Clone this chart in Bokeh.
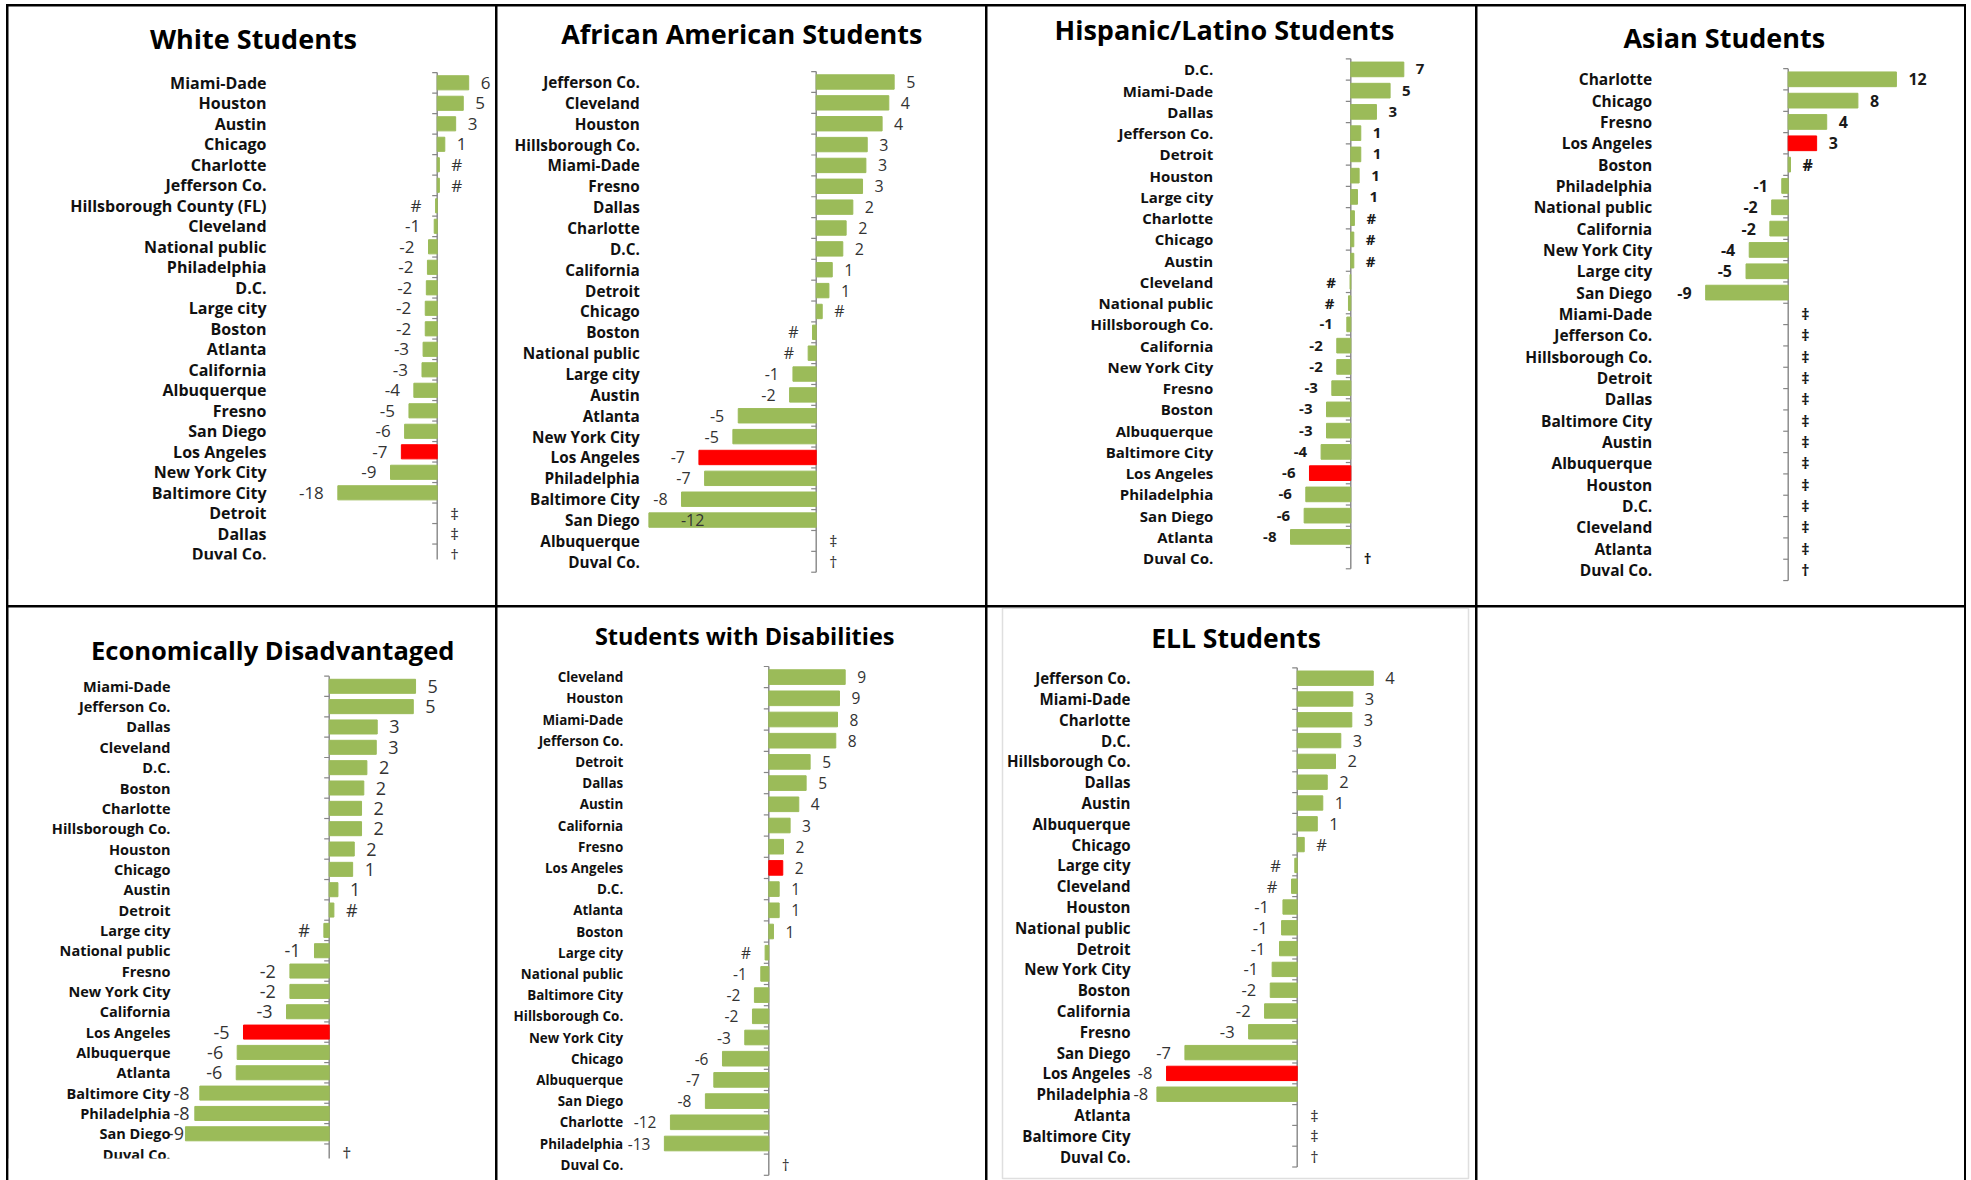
import math

from bokeh.core.properties import value
from bokeh.embed import file_html
from bokeh.layouts import column, row
from bokeh.models import BoxAnnotation, ColumnDataSource, Range1d
from bokeh.plotting import figure
from bokeh.resources import INLINE

# ------------------------------------------------------------------
# Data: change in average score by district, one panel per student group.
# None = no estimate; the footnote symbol for it is kept in *_notes.
# ------------------------------------------------------------------
white_cats = ["Miami-Dade", "Houston", "Austin", "Chicago", "Charlotte", "Jefferson Co.",
              "Hillsborough County (FL)", "Cleveland", "National public", "Philadelphia",
              "D.C.", "Large city", "Boston", "Atlanta", "California", "Albuquerque",
              "Fresno", "San Diego", "Los Angeles", "New York City", "Baltimore City",
              "Detroit", "Dallas", "Duval Co."]
white_vals = [5.8, 4.8, 3.4, 1.4, 0.4, 0.4, -0.3, -0.55, -1.6, -1.8, -2.0, -2.2, -2.2,
              -2.6, -2.8, -4.3, -5.2, -6.0, -6.6, -8.6, -18.3, None, None, None]
white_notes = {"Detroit": "‡", "Dallas": "‡", "Duval Co.": "†"}

black_cats = ["Jefferson Co.", "Cleveland", "Houston", "Hillsborough Co.", "Miami-Dade",
              "Fresno", "Dallas", "Charlotte", "D.C.", "California", "Detroit", "Chicago",
              "Boston", "National public", "Large city", "Austin", "Atlanta",
              "New York City", "Los Angeles", "Philadelphia", "Baltimore City",
              "San Diego", "Albuquerque", "Duval Co."]
black_vals = [4.66, 4.34, 3.94, 3.05, 2.97, 2.77, 2.19, 1.79, 1.59, 0.96, 0.76, 0.36,
              -0.22, -0.48, -1.39, -1.59, -4.66, -4.98, -7.01, -6.67, -8.05, -12.2,
              None, None]
black_notes = {"Albuquerque": "‡", "Duval Co.": "†"}

hisp_cats = ["D.C.", "Miami-Dade", "Dallas", "Jefferson Co.", "Detroit", "Houston",
             "Large city", "Charlotte", "Chicago", "Austin", "Cleveland", "National public",
             "Hillsborough Co.", "California", "New York City", "Fresno", "Boston",
             "Albuquerque", "Baltimore City", "Los Angeles", "Philadelphia", "San Diego",
             "Atlanta", "Duval Co."]
hisp_vals = [7.07, 5.24, 3.42, 1.33, 1.33, 1.11, 0.89, 0.48, 0.4, 0.4, -0.1, -0.31,
             -0.53, -1.87, -1.87, -2.53, -3.24, -3.24, -3.96, -5.51, -6.0, -6.22, -8.04,
             None]
hisp_notes = {"Duval Co.": "†"}

asian_cats = ["Charlotte", "Chicago", "Fresno", "Los Angeles", "Boston", "Philadelphia",
              "National public", "California", "New York City", "Large city", "San Diego",
              "Miami-Dade", "Jefferson Co.", "Hillsborough Co.", "Detroit", "Dallas",
              "Baltimore City", "Austin", "Albuquerque", "Houston", "D.C.", "Cleveland",
              "Atlanta", "Duval Co."]
asian_vals = [11.8, 7.6, 4.2, 3.1, 0.25, -0.7, -1.8, -2.0, -4.25, -4.6, -9.0,
              None, None, None, None, None, None, None, None, None, None, None, None, None]
asian_notes = {c: "‡" for c in asian_cats[11:23]}
asian_notes["Duval Co."] = "†"

econ_cats = ["Miami-Dade", "Jefferson Co.", "Dallas", "Cleveland", "D.C.", "Boston",
             "Charlotte", "Hillsborough Co.", "Houston", "Chicago", "Austin", "Detroit",
             "Large city", "National public", "Fresno", "New York City", "California",
             "Los Angeles", "Albuquerque", "Atlanta", "Baltimore City", "Philadelphia",
             "San Diego", "Duval Co."]
econ_vals = [5.34, 5.2, 2.97, 2.91, 2.33, 2.14, 2.0, 2.0, 1.55, 1.45, 0.54, 0.29, -0.33,
             -0.91, -2.43, -2.43, -2.64, -5.3, -5.69, -5.75, -8.0, -8.31, -8.89, None]
econ_notes = {"Duval Co.": "†"}

swd_cats = ["Cleveland", "Houston", "Miami-Dade", "Jefferson Co.", "Detroit", "Dallas",
            "Austin", "California", "Fresno", "Los Angeles", "D.C.", "Atlanta", "Boston",
            "Large city", "National public", "Baltimore City", "Hillsborough Co.",
            "New York City", "Chicago", "Albuquerque", "San Diego", "Charlotte",
            "Philadelphia", "Duval Co."]
swd_vals = [9.35, 8.65, 8.41, 8.2, 5.06, 4.57, 3.67, 2.61, 1.8, 1.71, 1.27, 1.27, 0.57,
            -0.45, -0.98, -1.76, -2.0, -2.94, -5.67, -6.73, -7.76, -12.04, -12.78, None]
swd_notes = {"Duval Co.": "†"}

ell_cats = ["Jefferson Co.", "Miami-Dade", "Charlotte", "D.C.", "Hillsborough Co.",
            "Dallas", "Austin", "Albuquerque", "Chicago", "Large city", "Cleveland",
            "Houston", "National public", "Detroit", "New York City", "Boston",
            "California", "Fresno", "San Diego", "Los Angeles", "Philadelphia",
            "Atlanta", "Baltimore City", "Duval Co."]
ell_vals = [4.43, 3.24, 3.18, 2.54, 2.23, 1.75, 1.49, 1.17, 0.41, -0.14, -0.33, -0.83,
            -0.91, -1.03, -1.46, -1.57, -1.9, -2.83, -6.54, -7.61, -8.17, None, None, None]
ell_notes = {"Atlanta": "‡", "Baltimore City": "‡", "Duval Co.": "†"}

titles = ["White Students", "African American Students", "Hispanic/Latino Students",
          "Asian Students", "Economically Disadvantaged", "Students with Disabilities",
          "ELL Students"]

HIGHLIGHT = "Los Angeles"

# ------------------------------------------------------------------
# Styling and page geometry (pixels)
# ------------------------------------------------------------------
GREEN = "#9BBB59"
RED = "#FF0000"
AXIS_GRAY = "#868686"
FONT = "Open Sans"

COL_X = [8, 497, 987, 1477]
COL_W = [487, 488, 488, 487]
ROW_Y = [6, 607]
ROW_H = [599, 573]

panels = [
    dict(cats=white_cats, vals=white_vals, notes=white_notes, cell=(0, 0),
         axis_x=436.7, label_x=266, row0=82.3, dy=20.5, scale=5.43,
         title_xy=(253, 38.3), title_size=27, cat_size=16, val_size=17, val_bold=False,
         clip_y=559, lo=None),
    dict(cats=black_cats, vals=black_vals, notes=black_notes, cell=(1, 0),
         axis_x=815.7, label_x=639.3, row0=81.5, dy=20.86, scale=16.73,
         title_xy=(741.3, 32.5), title_size=27, cat_size=15.3, val_size=16, val_bold=False,
         clip_y=None, lo=-10),
    dict(cats=hisp_cats, vals=hisp_vals, notes=hisp_notes, cell=(2, 0),
         axis_x=1350.3, label_x=1212.7, row0=68.9, dy=21.25, scale=7.5,
         title_xy=(1224, 28.7), title_size=27, cat_size=15, val_size=15, val_bold=True,
         clip_y=None, lo=None),
    dict(cats=asian_cats, vals=asian_vals, notes=asian_notes, cell=(3, 0),
         axis_x=1787.7, label_x=1651.7, row0=78.8, dy=21.33, scale=9.17,
         title_xy=(1723.8, 37.1), title_size=27, cat_size=15.5, val_size=16, val_bold=True,
         clip_y=None, lo=None),
    dict(cats=econ_cats, vals=econ_vals, notes=econ_notes, cell=(0, 1),
         axis_x=328.7, label_x=170, row0=685.8, dy=20.34, scale=16.17,
         title_xy=(272.2, 649.9), title_size=25.5, cat_size=14.5, val_size=18, val_bold=False,
         clip_y=1158, lo=None),
    dict(cats=swd_cats, vals=swd_vals, notes=swd_notes, cell=(1, 1),
         axis_x=768.3, label_x=622.7, row0=676.6, dy=21.2, scale=8.17,
         title_xy=(744.2, 635.9), title_size=23.5, cat_size=13.4, val_size=15.5, val_bold=False,
         clip_y=None, lo=None),
    dict(cats=ell_cats, vals=ell_vals, notes=ell_notes, cell=(2, 1),
         axis_x=1296.7, label_x=1130, row0=677.7, dy=20.8, scale=17.17,
         title_xy=(1235.5, 637), title_size=26.5, cat_size=15.1, val_size=16.5, val_bold=False,
         clip_y=None, lo=None, box=(1002, 1468, 607.7, 1178)),
]

POS_GAP = 12      # px between a bar's end and its label (right side)
NEG_GAP = 14      # px between a bar's end and its label (left side)
NOTE_GAP = 13     # px from the axis to a footnote symbol
INSIDE_GAP = 32   # px from a clipped bar's end to its label
TICK_LEN = 5      # px


def shown(v):
    """Label text: rounded to a whole number, '#' when it rounds to zero."""
    r = int(math.floor(abs(v) + 0.5))
    if r == 0:
        return "#"
    return ("-" if v < 0 else "") + str(r)


def text_width(t, size):
    """Rough advance width of a numeric label in px."""
    return sum(0.32 if ch == "-" else 0.57 for ch in t) * size


def make_panel(spec, title):
    c, r = spec["cell"]
    cw, ch = COL_W[c], ROW_H[r]
    s = spec["scale"]
    dy = spec["dy"]
    ax = spec["axis_x"] - COL_X[c]
    y0 = spec["row0"] - ROW_Y[r]

    def px_to_x(gx):
        return (gx - COL_X[c] - ax) / s

    def px_to_y(gy):
        return (gy - ROW_Y[r] - y0) / dy

    xr = Range1d(-ax / s, (cw - ax) / s)
    yr = Range1d((ch - y0) / dy, -y0 / dy)
    p = figure(width=cw, height=ch, x_range=xr, y_range=yr,
               toolbar_location=None, output_backend="svg",
               x_axis_location=None, y_axis_location=None, min_border=0,
               outline_line_color=None,
               background_fill_color="white", border_fill_color="white")
    p.xgrid.visible = False
    p.ygrid.visible = False

    cats, vals, notes = spec["cats"], spec["vals"], spec["notes"]
    n = len(cats)
    ys = list(range(n))
    lo = spec["lo"]
    vsize = spec["val_size"]

    # category axis line with ticks between categories
    p.segment(x0=[0], y0=[-0.5], x1=[0], y1=[n - 0.5], line_color=AXIS_GRAY, line_width=1.4)
    bounds = [k - 0.5 for k in range(n + 1)]
    p.segment(x0=[0] * len(bounds), y0=bounds, x1=[-TICK_LEN / s] * len(bounds), y1=bounds,
              line_color=AXIS_GRAY, line_width=1.2)

    # bars
    by, bright, bcol = [], [], []
    for i, (cat, v) in enumerate(zip(cats, vals)):
        if v is None:
            continue
        by.append(i)
        bright.append(max(lo, v) if lo is not None else v)
        bcol.append(RED if cat == HIGHLIGHT else GREEN)
    bsrc = ColumnDataSource(dict(y=by, right=bright, color=bcol))
    p.hbar(y="y", left=0, right="right", height=0.69, fill_color="color",
           line_color="color", line_width=1, source=bsrc)

    # value labels
    plot_left = spec["label_x"] - COL_X[c] - ax       # px, relative to the axis
    right_lab = dict(x=[], y=[], t=[])
    left_lab = dict(x=[], y=[], t=[])
    for i, (cat, v) in enumerate(zip(cats, vals)):
        if v is None:
            right_lab["x"].append(NOTE_GAP / s)
            right_lab["y"].append(i)
            right_lab["t"].append(notes[cat])
            continue
        t = shown(v)
        if lo is not None and v < lo:
            right_lab["x"].append(lo + INSIDE_GAP / s)
            right_lab["y"].append(i)
        elif v >= 0:
            right_lab["x"].append(v + POS_GAP / s)
            right_lab["y"].append(i)
        else:
            end_px = v * s
            room = end_px - plot_left - text_width(t, vsize) - 3
            gap = max(1.5, min(NEG_GAP, room))
            left_lab["x"].append(v - gap / s)
            left_lab["y"].append(i)
            left_lab["t"].append(t)
            continue
        right_lab["t"].append(t)

    vstyle = "bold" if spec["val_bold"] else "normal"
    vcolor = "#1a1a1a" if spec["val_bold"] else "#333333"
    for lab, align in ((right_lab, "left"), (left_lab, "right")):
        p.text(x="x", y="y", text="t", source=ColumnDataSource(lab),
               text_font=value(FONT), text_font_style=vstyle,
               text_font_size=f"{vsize}px", text_color=vcolor,
               text_align=align, text_baseline="middle")

    # category names
    lx = px_to_x(spec["label_x"])
    p.text(x=[lx] * n, y=ys, text=cats, text_font=value(FONT), text_font_style="bold",
           text_font_size=f"{spec['cat_size']}px", text_color="#111111",
           text_align="right", text_baseline="middle")

    # panel title
    p.text(x=[px_to_x(spec["title_xy"][0])], y=[px_to_y(spec["title_xy"][1])], text=[title],
           text_font=value(FONT), text_font_style="bold",
           text_font_size=f"{spec['title_size']}px", text_color="black",
           text_align="center", text_baseline="middle")

    # chart area cropped at the bottom of the cell
    if spec.get("clip_y") is not None:
        p.add_layout(BoxAnnotation(left=xr.start, right=xr.end,
                                   top=px_to_y(spec["clip_y"]), bottom=yr.start,
                                   fill_color="white", fill_alpha=1.0, line_color=None,
                                   level="overlay"))

    # thin grey chart-area frame
    if spec.get("box") is not None:
        bx0, bx1, by0, by1 = spec["box"]
        p.add_layout(BoxAnnotation(left=px_to_x(bx0), right=px_to_x(bx1),
                                   top=px_to_y(by0), bottom=px_to_y(by1),
                                   fill_alpha=0, line_color="#969696", line_width=1.5,
                                   level="overlay"))
    return p


figs = [make_panel(spec, t) for spec, t in zip(panels, titles)]

# empty last cell
blank = figure(width=COL_W[3], height=ROW_H[1], toolbar_location=None, output_backend="svg",
               x_axis_location=None, y_axis_location=None, min_border=0,
               outline_line_color=None, x_range=Range1d(0, 1), y_range=Range1d(0, 1))
blank.xgrid.visible = False
blank.ygrid.visible = False
blank.segment(x0=[0], y0=[0], x1=[0], y1=[0], line_alpha=0)
figs.append(blank)

# the black table rules show through the gaps between the cells
r1 = row(figs[0:4], spacing=2, margin=(2, 2, 0, 2))
r2 = row(figs[4:8], spacing=2, margin=(0, 2, 0, 2))
page = column(r1, r2, spacing=2, margin=(4, 0, 0, 6),
              styles={"background-color": "black"})

open("out.html", "w").write(file_html(page, INLINE))
